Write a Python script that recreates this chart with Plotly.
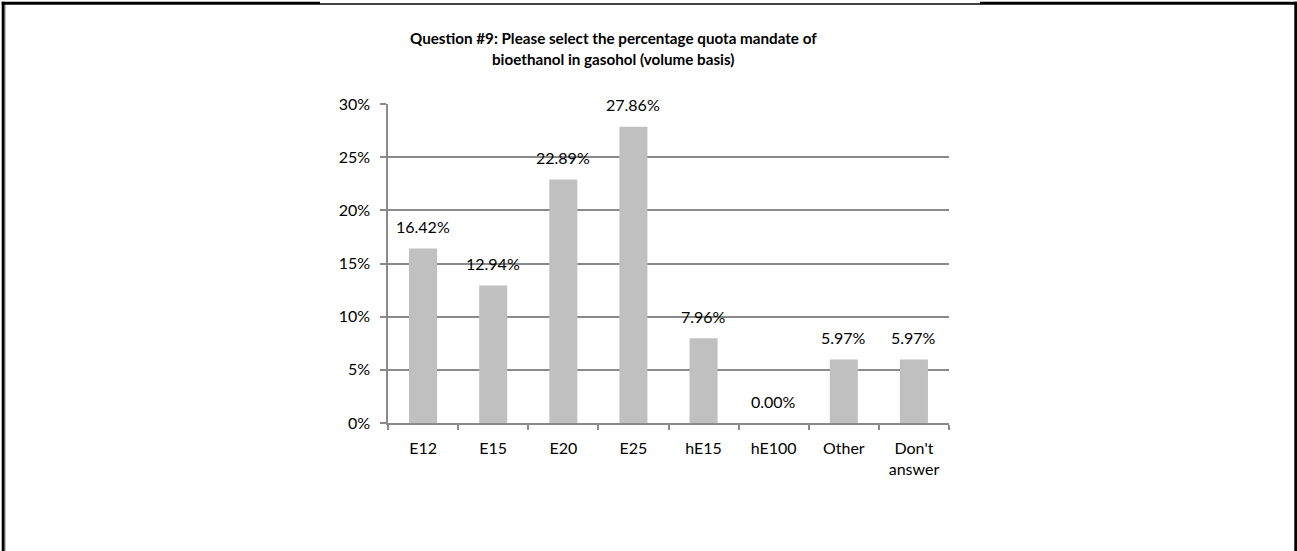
import plotly.graph_objects as go

# Survey responses for question #9
categories = ["E12", "E15", "E20", "E25", "hE15", "hE100", "Other", "Don't<br>answer"]
shares = [16.42, 12.94, 22.89, 27.86, 7.96, 0.00, 5.97, 5.97]
y_ticks = [0, 5, 10, 15, 20, 25, 30]
y_tick_labels = [f"{t}%" for t in y_ticks]
title_lines = [
    "Question #9: Please select the percentage quota mandate of",
    "bioethanol in gasohol (volume basis)",
]

W, H = 1297, 551
ML, MR, MT, MB = 388, 348, 104, 128
PW, PH = W - ML - MR, H - MT - MB

FONT = "Lato"
GRID = "#8a8a8a"
BAR = "#c0c0c0"


def fx(px):
    """Pixel x -> paper x."""
    return (px - ML) / PW


def fy(py):
    """Pixel y (from top) -> paper y."""
    return (H - MB - py) / PH


fig = go.Figure(
    go.Bar(
        x=categories,
        y=shares,
        marker=dict(color=BAR, line=dict(width=0)),
        hoverinfo="skip",
    )
)

# value labels above bars
annotations = [
    dict(
        x=c, y=v, xref="x", yref="y",
        text=f"{v:.2f}%", showarrow=False,
        yshift=22, yanchor="middle", xanchor="center",
        font=dict(family=FONT, size=16, color="#000000"),
    )
    for c, v in zip(categories, shares)
]

# two-line chart title
for line, py in zip(title_lines, [38, 59]):
    annotations.append(
        dict(
            x=fx(613), y=fy(py), xref="paper", yref="paper",
            text=f"<b>{line}</b>", showarrow=False,
            xanchor="center", yanchor="middle",
            font=dict(family=FONT, size=15.2, color="#000000"),
        )
    )

# outer frame
frame = []
def seg(x0, y0, x1, y1, w):
    frame.append(dict(
        type="line", xref="paper", yref="paper",
        x0=fx(x0), y0=fy(y0), x1=fx(x1), y1=fy(y1),
        line=dict(color="#000000", width=w),
    ))

seg(3.2, 1.7, 3.2, H, 3)
seg(1295.8, 1.7, 1295.8, H, 3)
seg(1.7, 3.2, 320, 3.2, 3)
seg(320, 4.0, 980, 4.0, 1.5)
seg(980, 3.2, 1297, 3.2, 3)
frame.append(dict(
    type="line", xref="paper", yref="paper",
    x0=fx(5.2), y0=fy(5), x1=fx(5.2), y1=fy(H),
    line=dict(color="#9a9a9a", width=1),
))

fig.update_layout(
    width=W, height=H,
    margin=dict(l=ML, r=MR, t=MT, b=MB, pad=0),
    paper_bgcolor="white", plot_bgcolor="white",
    showlegend=False,
    bargap=0.6,
    font=dict(family=FONT, size=16, color="#000000"),
    annotations=annotations,
    shapes=frame,
    xaxis=dict(
        type="category",
        showgrid=False,
        showline=True, linecolor=GRID, linewidth=1.5,
        ticks="outside", ticklen=5, tickcolor=GRID, tickwidth=1.5,
        tickson="boundaries",
        ticklabelstandoff=10,
        tickfont=dict(family=FONT, size=16, color="#000000"),
        fixedrange=True,
    ),
    yaxis=dict(
        range=[0, 30],
        tickvals=y_ticks, ticktext=y_tick_labels,
        showgrid=True, gridcolor=GRID, gridwidth=1.5,
        showline=True, linecolor=GRID, linewidth=1.5,
        ticks="outside", ticklen=6, tickcolor=GRID, tickwidth=1.5,
        ticklabelstandoff=7,
        zeroline=False,
        tickfont=dict(family=FONT, size=16, color="#000000"),
        fixedrange=True,
    ),
)

fig.write_html("out.html", config={"displayModeBar": False})
